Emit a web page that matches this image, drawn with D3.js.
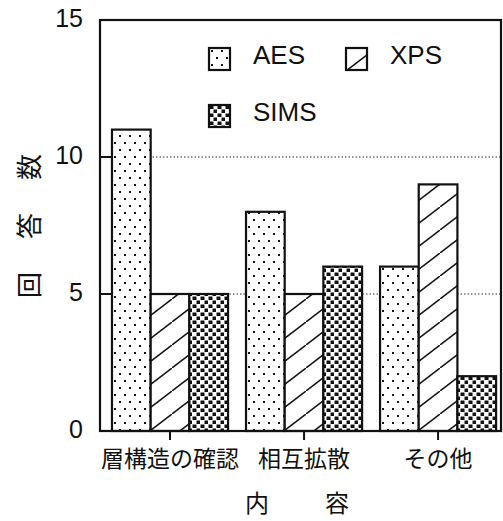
<!DOCTYPE html>
<html>
<head>
<meta charset="utf-8">
<script src="https://cdn.jsdelivr.net/npm/d3@7"></script>
<style>
  body { margin: 0; background: #fff; }
  text { fill: #111; }
</style>
</head>
<body>
<script>
var categories = ["層構造の確認", "相互拡散", "その他"];
var series = ["AES", "XPS", "SIMS"];
var aesValues = [11, 8, 6];
var xpsValues = [5, 5, 9];
var simsValues = [5, 6, 2];
var yTicks = [0, 5, 10, 15];

var width = 503, height = 521;
var plotLeft = 100, plotRight = 501, plotTop = 20, plotBottom = 431;

var svg = d3.select("body").append("svg")
  .attr("width", width)
  .attr("height", height);

var defs = svg.append("defs");

// AES: sparse staggered dots
var pAes = defs.append("pattern").attr("id", "pAES")
  .attr("patternUnits", "userSpaceOnUse").attr("width", 10).attr("height", 14);
pAes.append("rect").attr("width", 10).attr("height", 14).attr("fill", "#fff");
pAes.append("rect").attr("x", 2).attr("y", 2).attr("width", 2).attr("height", 2).attr("fill", "#111");
pAes.append("rect").attr("x", 7).attr("y", 9).attr("width", 2).attr("height", 2).attr("fill", "#111");

// XPS: diagonal hatch, lower-left to upper-right
var pXps = defs.append("pattern").attr("id", "pXPS")
  .attr("patternUnits", "userSpaceOnUse").attr("width", 30).attr("height", 23);
pXps.append("rect").attr("width", 30).attr("height", 23).attr("fill", "#fff");
pXps.append("path").attr("d", "M-4,26.07 L34,-3.07")
  .attr("stroke", "#111").attr("stroke-width", 1.5);

// SIMS: dense black squares
var pSims = defs.append("pattern").attr("id", "pSIMS")
  .attr("patternUnits", "userSpaceOnUse").attr("width", 8).attr("height", 8);
pSims.append("rect").attr("width", 8).attr("height", 8).attr("fill", "#fff");
pSims.append("rect").attr("x", 0.5).attr("y", 0.5).attr("width", 4).attr("height", 3.5).attr("fill", "#111");
pSims.append("rect").attr("x", 4.5).attr("y", 4.5).attr("width", 3.5).attr("height", 3.5).attr("fill", "#111");

var y = d3.scaleLinear().domain([0, 15]).range([plotBottom, plotTop]);
var x0 = d3.scaleBand().domain(categories).range([plotLeft, plotRight])
  .paddingInner(0.134).paddingOuter(0.063).align(0.71);
var x1 = d3.scaleBand().domain(series).range([0, x0.bandwidth()]);

// dotted gridlines
svg.append("g").selectAll("line").data([5, 10]).enter().append("line")
  .attr("x1", plotLeft).attr("x2", plotRight)
  .attr("y1", function (d) { return y(d); })
  .attr("y2", function (d) { return y(d); })
  .attr("stroke", "#333").attr("stroke-width", 1)
  .attr("stroke-dasharray", "1.5,2");

// bars
var rows = categories.map(function (c, i) {
  return { cat: c, vals: [aesValues[i], xpsValues[i], simsValues[i]] };
});
var groups = svg.append("g").selectAll("g").data(rows).enter().append("g")
  .attr("transform", function (d) { return "translate(" + x0(d.cat) + ",0)"; });
groups.selectAll("rect").data(function (d) {
  return d.vals.map(function (v, j) { return { s: series[j], v: v }; });
}).enter().append("rect")
  .attr("x", function (d) { return x1(d.s); })
  .attr("width", x1.bandwidth())
  .attr("y", function (d) { return y(d.v); })
  .attr("height", function (d) { return plotBottom - y(d.v); })
  .attr("fill", function (d) { return "url(#p" + d.s + ")"; })
  .attr("stroke", "#111").attr("stroke-width", 2.2);

// frame
svg.append("rect")
  .attr("x", plotLeft).attr("y", plotTop)
  .attr("width", plotRight - plotLeft).attr("height", plotBottom - plotTop)
  .attr("fill", "none").attr("stroke", "#111").attr("stroke-width", 2.2);

// y ticks
var yAxis = svg.append("g");
yAxis.selectAll("line").data(yTicks).enter().append("line")
  .attr("x1", plotLeft).attr("x2", plotLeft + 11)
  .attr("y1", function (d) { return y(d); })
  .attr("y2", function (d) { return y(d); })
  .attr("stroke", "#111").attr("stroke-width", 2);
yAxis.selectAll("text").data(yTicks).enter().append("text")
  .attr("x", 83)
  .attr("y", function (d) { return y(d) - 2; })
  .attr("dy", "0.36em")
  .attr("text-anchor", "end")
  .style("font-family", "'Liberation Sans', Arial, sans-serif")
  .style("font-size", "25px")
  .text(function (d) { return d; });

// x ticks and labels
var xAxis = svg.append("g");
xAxis.selectAll("line").data(categories).enter().append("line")
  .attr("x1", function (d) { return x0(d) + x0.bandwidth() / 2; })
  .attr("x2", function (d) { return x0(d) + x0.bandwidth() / 2; })
  .attr("y1", plotBottom).attr("y2", plotBottom + 9)
  .attr("stroke", "#111").attr("stroke-width", 2);
xAxis.selectAll("text").data(categories).enter().append("text")
  .attr("x", function (d) { return x0(d) + x0.bandwidth() / 2; })
  .attr("y", 467)
  .attr("text-anchor", "middle")
  .style("font-family", "'Noto Sans CJK JP', sans-serif")
  .style("font-size", "23px")
  .text(function (d) { return d; });

svg.append("text")
  .attr("x", 245).attr("y", 512)
  .attr("text-anchor", "start")
  .style("font-family", "'Noto Sans CJK JP', sans-serif")
  .style("font-size", "24px")
  .style("letter-spacing", "16px")
  .text("内　容");

svg.append("text")
  .attr("transform", "translate(30,209.5) rotate(-90)")
  .attr("text-anchor", "middle")
  .attr("dy", "0.36em")
  .style("font-family", "'Noto Sans CJK JP', sans-serif")
  .style("font-size", "26px")
  .style("letter-spacing", "33px")
  .text("回答数");

// legend
var legendItems = [
  { s: "AES", x: 209, y: 48 },
  { s: "XPS", x: 346, y: 48 },
  { s: "SIMS", x: 209, y: 105 }
];
var lg = svg.append("g").selectAll("g").data(legendItems).enter().append("g")
  .attr("transform", function (d) { return "translate(" + d.x + "," + d.y + ")"; });
lg.append("rect")
  .attr("width", 21).attr("height", 22)
  .attr("fill", function (d) { return "url(#p" + d.s + ")"; })
  .attr("stroke", "#111").attr("stroke-width", 2.2);
lg.append("text")
  .attr("x", 44).attr("y", 7).attr("dy", "0.36em")
  .style("font-family", "'Liberation Sans', Arial, sans-serif")
  .style("font-size", "26px")
  .text(function (d) { return d.s; });
</script>
</body>
</html>
